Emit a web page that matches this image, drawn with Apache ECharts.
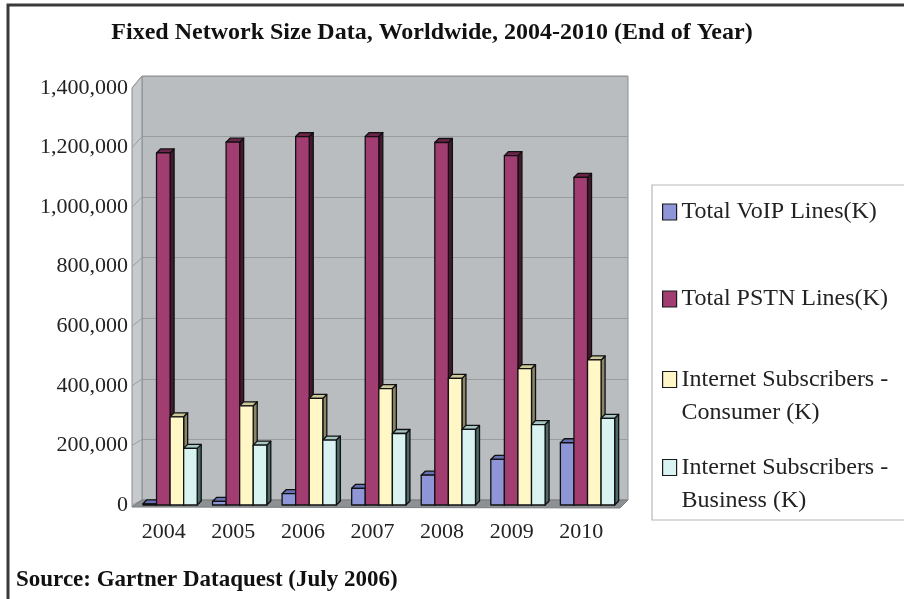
<!DOCTYPE html>
<html>
<head>
<meta charset="utf-8">
<script src="https://cdn.jsdelivr.net/npm/echarts@6/dist/echarts.min.js"></script>
<style>
  html, body { margin: 0; padding: 0; background: #ffffff; }
  #chart { width: 904px; height: 599px; }
</style>
</head>
<body>
<div id="chart"></div>
<script>
// Fixed network size, worldwide, end of year (thousands)
const YEARS = ['2004', '2005', '2006', '2007', '2008', '2009', '2010'];
const VOIP_LINES = [4000, 12000, 38000, 56000, 100000, 153000, 209000];
const PSTN_LINES = [1182000, 1218000, 1237000, 1237000, 1217000, 1173000, 1100000];
const INTERNET_CONSUMER = [296000, 333000, 358000, 391000, 425000, 458000, 487000];
const INTERNET_BUSINESS = [190000, 201000, 218000, 240000, 254000, 270000, 291000];

const SERIES_NAMES = [
  'Total VoIP Lines(K)',
  'Total PSTN Lines(K)',
  'Internet Subscribers - Consumer (K)',
  'Internet Subscribers - Business (K)'
];
// two-line entries start with an empty line so the swatch sits beside the first line
const LEGEND_LABELS = [
  'Total VoIP Lines(K)',
  'Total PSTN Lines(K)',
  '\nInternet Subscribers -\nConsumer (K)',
  '\nInternet Subscribers -\nBusiness (K)'
];

const Y_MIN = 0;
const Y_MAX = 1400000;
const Y_STEP = 200000;

const SERIF = '"Liberation Serif", "DejaVu Serif", serif';

// face colours: front, top, side
const FACES = [
  ['#8e96d8', '#6870b4', '#434a86'],
  ['#a23d72', '#6c2449', '#461830'],
  ['#fff7c6', '#cfc89a', '#8a8564'],
  ['#d9f3f3', '#a7c6c4', '#4c6b68']
];

const BAR_FRAC = 0.195;    // bar width as share of category width
const GROUP_START = -0.40; // left edge of the group, as share of category width
const DEPTH_X = 4;
const DEPTH_Y = -4;

function barRenderer(k) {
  return function (params, api) {
    const idx = api.value(0);
    const val = api.value(1);
    const topPt = api.coord([idx, val]);
    const basePt = api.coord([idx, 0]);
    const bw = api.size([1, 0])[0];
    const w = bw * BAR_FRAC;
    const x0 = topPt[0] + bw * GROUP_START + k * w;
    const x1 = x0 + w;
    const yT = topPt[1];
    const yB = basePt[1];
    const faces = FACES[k];
    const stroke = { stroke: '#111', lineWidth: 1.3, lineJoin: 'round' };
    return {
      type: 'group',
      children: [
        {
          type: 'polygon',
          shape: { points: [[x1, yT], [x1 + DEPTH_X, yT + DEPTH_Y], [x1 + DEPTH_X, yB + DEPTH_Y], [x1, yB]] },
          style: Object.assign({ fill: faces[2] }, stroke)
        },
        {
          type: 'polygon',
          shape: { points: [[x0, yT], [x0 + DEPTH_X, yT + DEPTH_Y], [x1 + DEPTH_X, yT + DEPTH_Y], [x1, yT]] },
          style: Object.assign({ fill: faces[1] }, stroke)
        },
        {
          type: 'rect',
          shape: { x: x0, y: yT, width: w, height: yB - yT },
          style: Object.assign({ fill: faces[0] }, stroke)
        }
      ]
    };
  };
}

const seriesValues = [VOIP_LINES, PSTN_LINES, INTERNET_CONSUMER, INTERNET_BUSINESS];

const chart = echarts.init(document.getElementById('chart'), null, { renderer: 'canvas' });

const legendTops = [199, 286, 330, 418];
const legends = SERIES_NAMES.map((name, k) => ({
  data: [{ name: name, icon: 'rect' }],
  left: 662,
  top: legendTops[k],
  padding: 0,
  itemWidth: 14,
  itemHeight: 16,
  itemGap: 0,
  selectedMode: false,
  itemStyle: { borderColor: '#1a1a1a', borderWidth: 1.2 },
  formatter: () => LEGEND_LABELS[k],
  textStyle: {
    fontFamily: SERIF, fontSize: 24, color: '#222',
    lineHeight: k < 2 ? 26 : 33
  },
  z: 10
}));

const option = {
  backgroundColor: '#ffffff',
  animation: false,
  legend: legends,
  grid: [
    { left: 136, right: 281, top: 88, bottom: 94, containLabel: false },
    {
      left: 142, right: 276, top: 76, bottom: 99,
      show: true, backgroundColor: '#b9bdc0', borderColor: '#8a8d90', borderWidth: 1
    }
  ],
  xAxis: [
    {
      gridIndex: 0,
      type: 'category',
      data: YEARS,
      axisLine: { show: false },
      axisTick: { show: false },
      axisLabel: {
        fontFamily: SERIF, fontSize: 22, color: '#222',
        margin: 16, padding: [0, 14, 0, 0]
      }
    },
    {
      gridIndex: 1,
      type: 'category',
      data: YEARS,
      show: false
    }
  ],
  yAxis: [
    {
      gridIndex: 0,
      type: 'value',
      min: Y_MIN, max: Y_MAX, interval: Y_STEP,
      axisLine: { show: false },
      axisTick: { show: false },
      splitLine: { show: false },
      axisLabel: {
        fontFamily: SERIF, fontSize: 22, color: '#222', margin: 8,
        formatter: v => v.toLocaleString('en-US')
      }
    },
    {
      gridIndex: 1,
      type: 'value',
      min: Y_MIN, max: Y_MAX, interval: Y_STEP,
      axisLine: { show: false },
      axisTick: { show: false },
      axisLabel: { show: false },
      splitLine: { show: true, lineStyle: { color: '#999c9f', width: 1 } }
    }
  ],
  series: SERIES_NAMES.map((name, k) => ({
    name: name,
    type: 'custom',
    xAxisIndex: 0,
    yAxisIndex: 0,
    renderItem: barRenderer(k),
    itemStyle: { color: FACES[k][0] },
    encode: { x: 0, y: 1 },
    data: seriesValues[k].map((v, i) => [i, v]),
    z: 5
  }))
};

chart.setOption(option);

// walls, floor and frame drawn around the axes
const yFront = v => chart.convertToPixel({ yAxisIndex: 0 }, v);
const yBack = v => chart.convertToPixel({ yAxisIndex: 1 }, v);
const xFrontL = 132, xBackL = 142, xBackR = 628, xFrontR = 620;

const elements = [];
elements.push({
  type: 'rect',
  shape: { x: 8, y: 5, width: 1000, height: 1000 },
  style: { fill: 'none', stroke: '#3a3a3a', lineWidth: 3 },
  z: 0
});
elements.push({
  type: 'polygon',
  shape: { points: [[xFrontL, yFront(Y_MAX)], [xBackL, yBack(Y_MAX)], [xBackL, yBack(0)], [xFrontL, yFront(0) + 2]] },
  style: { fill: '#c7cacd', stroke: '#8a8d90', lineWidth: 1 },
  z: 1
});
for (let v = Y_MIN; v <= Y_MAX; v += Y_STEP) {
  elements.push({
    type: 'line',
    shape: { x1: xFrontL, y1: yFront(v), x2: xBackL, y2: yBack(v) },
    style: { stroke: '#9a9da0', lineWidth: 1 },
    z: 2
  });
}
elements.push({
  type: 'polygon',
  shape: { points: [[xFrontL, yFront(0) + 2], [xBackL, yBack(0)], [xBackR, yBack(0)], [xFrontR, yFront(0) + 3]] },
  style: { fill: '#8e9194', stroke: '#7a7d80', lineWidth: 1 },
  z: 2
});
elements.push({
  type: 'rect',
  shape: { x: 652, y: 185, width: 300, height: 335 },
  style: { fill: '#ffffff', stroke: '#b8b8b8', lineWidth: 1.2 },
  z: 1
});
elements.push({
  type: 'text',
  x: 432, y: 33,
  style: {
    text: 'Fixed Network Size Data, Worldwide, 2004-2010 (End of Year)',
    fontFamily: SERIF, fontSize: 24, fontWeight: 'bold', fill: '#111',
    align: 'center', verticalAlign: 'middle'
  },
  z: 10
});
elements.push({
  type: 'text',
  x: 16, y: 580,
  style: {
    text: 'Source: Gartner Dataquest (July 2006)',
    fontFamily: SERIF, fontSize: 23, fontWeight: 'bold', fill: '#111',
    align: 'left', verticalAlign: 'middle'
  },
  z: 10
});

chart.setOption({ graphic: { elements: elements } });
</script>
</body>
</html>
